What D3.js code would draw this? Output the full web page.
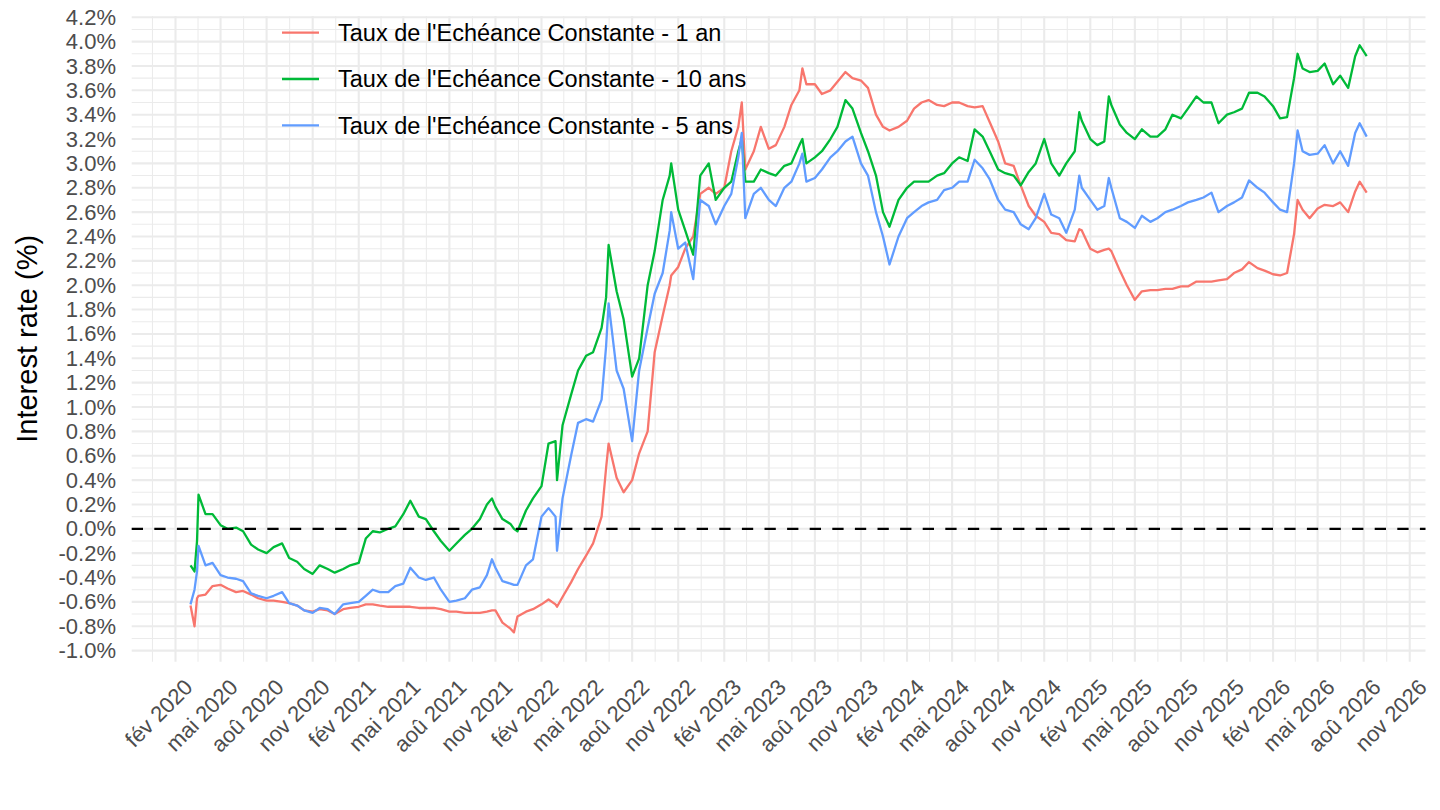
<!DOCTYPE html>
<html>
<head>
<meta charset="utf-8">
<script src="https://d3js.org/d3.v7.min.js"></script>
<style>
  body { margin: 0; background: #ffffff; }
  svg { display: block; font-family: "Liberation Sans", Arial, Helvetica, sans-serif; }
</style>
</head>
<body>
<script>
var width = 1440;
var height = 810;

var seriesNames = ["Taux de l'Echéance Constante - 1 an",
                   "Taux de l'Echéance Constante - 10 ans",
                   "Taux de l'Echéance Constante - 5 ans"];
var seriesColors = ["#F8766D", "#00BA38", "#619CFF"];
var moisCourts = ["jan", "fév", "mar", "avr", "mai", "jun", "jul", "aoû", "sep", "oct", "nov", "déc"];
var yTickValues = d3.range(-10, 43, 2).map(d => d / 10);
var yLabel = "Interest rate (%)";

var dates = [
  "2020-03-02", "2020-03-10", "2020-03-15", "2020-03-18", "2020-04-01", "2020-04-15",
  "2020-05-01", "2020-05-15", "2020-06-01", "2020-06-15", "2020-07-01", "2020-07-15",
  "2020-08-01", "2020-08-15", "2020-09-01", "2020-09-15", "2020-10-01", "2020-10-15",
  "2020-11-01", "2020-11-15", "2020-12-01", "2020-12-15", "2021-01-01", "2021-01-15",
  "2021-02-01", "2021-02-15", "2021-03-01", "2021-03-15", "2021-04-01", "2021-04-15",
  "2021-05-01", "2021-05-15", "2021-06-01", "2021-06-15", "2021-07-01", "2021-07-15",
  "2021-08-01", "2021-08-15", "2021-09-01", "2021-09-15", "2021-10-01", "2021-10-15",
  "2021-10-25", "2021-11-01", "2021-11-15", "2021-12-01", "2021-12-08", "2021-12-15",
  "2022-01-01", "2022-01-15", "2022-02-01", "2022-02-15", "2022-03-01", "2022-03-04",
  "2022-03-15", "2022-04-01", "2022-04-15", "2022-05-01", "2022-05-15", "2022-06-01",
  "2022-06-10", "2022-06-15", "2022-07-01", "2022-07-15", "2022-08-01", "2022-08-15",
  "2022-09-01", "2022-09-15", "2022-10-01", "2022-10-15", "2022-10-18", "2022-11-01",
  "2022-11-15", "2022-12-01", "2022-12-15", "2023-01-01", "2023-01-15", "2023-02-01",
  "2023-02-15", "2023-03-01", "2023-03-08", "2023-03-15", "2023-04-01", "2023-04-15",
  "2023-05-01", "2023-05-15", "2023-06-01", "2023-06-15", "2023-07-01", "2023-07-07",
  "2023-07-15", "2023-08-01", "2023-08-15", "2023-09-01", "2023-09-15", "2023-10-01",
  "2023-10-15", "2023-11-01", "2023-11-15", "2023-12-01", "2023-12-15", "2023-12-28",
  "2024-01-15", "2024-02-01", "2024-02-15", "2024-03-01", "2024-03-15", "2024-04-01",
  "2024-04-15", "2024-05-01", "2024-05-15", "2024-06-01", "2024-06-15", "2024-07-01",
  "2024-07-15", "2024-08-01", "2024-08-15", "2024-09-01", "2024-09-15", "2024-10-01",
  "2024-10-15", "2024-11-01", "2024-11-15", "2024-12-01", "2024-12-15", "2025-01-01",
  "2025-01-10", "2025-01-15", "2025-02-01", "2025-02-15", "2025-03-01", "2025-03-10",
  "2025-03-15", "2025-04-01", "2025-04-15", "2025-05-01", "2025-05-15", "2025-06-01",
  "2025-06-15", "2025-07-01", "2025-07-15", "2025-08-01", "2025-08-15", "2025-09-01",
  "2025-09-15", "2025-10-01", "2025-10-15", "2025-11-01", "2025-11-15", "2025-12-01",
  "2025-12-15", "2026-01-01", "2026-01-15", "2026-02-01", "2026-02-15", "2026-03-01",
  "2026-03-15", "2026-03-22", "2026-04-01", "2026-04-15", "2026-05-01", "2026-05-15",
  "2026-06-01", "2026-06-15", "2026-07-01", "2026-07-15", "2026-07-24", "2026-08-07"
];

var taux1an = [
  -0.63, -0.80, -0.57, -0.55, -0.54, -0.47,
  -0.46, -0.49, -0.52, -0.51, -0.54, -0.57,
  -0.59, -0.59, -0.60, -0.61, -0.63, -0.67,
  -0.68, -0.66, -0.67, -0.70, -0.66, -0.65,
  -0.64, -0.62, -0.62, -0.63, -0.64, -0.64,
  -0.64, -0.64, -0.65, -0.65, -0.65, -0.66,
  -0.68, -0.68, -0.69, -0.69, -0.69, -0.68,
  -0.67, -0.67, -0.77, -0.82, -0.85, -0.72,
  -0.68, -0.66, -0.62, -0.58, -0.62, -0.64,
  -0.56, -0.44, -0.33, -0.22, -0.12, 0.10,
  0.50, 0.70, 0.42, 0.30, 0.40, 0.62,
  0.80, 1.45, 1.75, 2.00, 2.08, 2.15,
  2.30, 2.40, 2.75, 2.80, 2.75, 2.80,
  3.10, 3.30, 3.50, 2.95, 3.10, 3.30,
  3.12, 3.15, 3.30, 3.48, 3.60, 3.78,
  3.65, 3.65, 3.57, 3.60, 3.67, 3.75,
  3.70, 3.68, 3.62, 3.40, 3.30, 3.27,
  3.30, 3.35, 3.45, 3.50, 3.52, 3.48,
  3.47, 3.50, 3.50, 3.47, 3.46, 3.47,
  3.34, 3.18, 3.00, 2.98, 2.82, 2.65,
  2.57, 2.52, 2.43, 2.42, 2.37, 2.36,
  2.46, 2.45, 2.30, 2.27, 2.29, 2.30,
  2.28, 2.12, 2.00, 1.88, 1.95, 1.96,
  1.96, 1.97, 1.97, 1.99, 1.99, 2.03,
  2.03, 2.03, 2.04, 2.05, 2.10, 2.13,
  2.19, 2.14, 2.12, 2.09, 2.08, 2.10,
  2.42, 2.70, 2.62, 2.55, 2.63, 2.66,
  2.65, 2.68, 2.60, 2.77, 2.85, 2.76
];

var taux10ans = [
  -0.30, -0.35, -0.10, 0.28, 0.12, 0.12,
  0.03, 0.00, 0.01, -0.02, -0.13, -0.17,
  -0.20, -0.15, -0.12, -0.24, -0.27, -0.33,
  -0.37, -0.30, -0.33, -0.36, -0.33, -0.30,
  -0.28, -0.08, -0.02, -0.03, 0.00, 0.02,
  0.12, 0.23, 0.10, 0.08, -0.02, -0.10,
  -0.18, -0.12, -0.05, 0.00, 0.08, 0.20,
  0.25, 0.18, 0.08, 0.04, 0.00, -0.02,
  0.15, 0.25, 0.35, 0.70, 0.72, 0.40,
  0.85, 1.10, 1.30, 1.42, 1.45, 1.65,
  1.90, 2.33, 1.95, 1.72, 1.25, 1.40,
  2.00, 2.28, 2.70, 2.90, 3.00, 2.62,
  2.45, 2.25, 2.90, 3.00, 2.70, 2.80,
  2.85, 3.10, 3.20, 2.85, 2.85, 2.95,
  2.92, 2.90, 2.98, 3.00, 3.15, 3.20,
  3.00, 3.05, 3.10, 3.20, 3.30, 3.52,
  3.45, 3.25, 3.10, 2.90, 2.60, 2.48,
  2.70, 2.80, 2.85, 2.85, 2.85, 2.90,
  2.92, 3.00, 3.05, 3.02, 3.28, 3.22,
  3.10, 2.95, 2.92, 2.90, 2.82, 2.93,
  3.00, 3.20, 3.00, 2.90, 3.00, 3.10,
  3.42, 3.35, 3.20, 3.15, 3.18, 3.55,
  3.48, 3.32, 3.25, 3.20, 3.28, 3.22,
  3.22, 3.28, 3.40, 3.37, 3.45, 3.55,
  3.50, 3.50, 3.33, 3.40, 3.42, 3.45,
  3.58, 3.58, 3.55, 3.47, 3.37, 3.38,
  3.70, 3.90, 3.78, 3.75, 3.76, 3.82,
  3.65, 3.72, 3.62, 3.88, 3.97, 3.88
];

var taux5ans = [
  -0.62, -0.50, -0.35, -0.14, -0.30, -0.28,
  -0.38, -0.40, -0.41, -0.43, -0.53, -0.55,
  -0.57, -0.55, -0.52, -0.61, -0.63, -0.67,
  -0.69, -0.65, -0.66, -0.70, -0.62, -0.61,
  -0.60, -0.55, -0.50, -0.52, -0.52, -0.47,
  -0.45, -0.32, -0.40, -0.42, -0.40, -0.50,
  -0.60, -0.59, -0.57, -0.50, -0.48, -0.38,
  -0.25, -0.32, -0.43, -0.45, -0.46, -0.46,
  -0.30, -0.25, 0.10, 0.17, 0.10, -0.18,
  0.25, 0.60, 0.87, 0.90, 0.88, 1.06,
  1.50, 1.85, 1.30, 1.15, 0.72, 1.30,
  1.65, 1.93, 2.10, 2.45, 2.60, 2.30,
  2.35, 2.05, 2.70, 2.65, 2.50, 2.65,
  2.75, 3.05, 3.25, 2.55, 2.75, 2.80,
  2.70, 2.65, 2.80, 2.85, 3.00, 3.08,
  2.85, 2.88, 2.95, 3.05, 3.10, 3.18,
  3.22, 3.00, 2.90, 2.60, 2.40, 2.17,
  2.40, 2.55, 2.60, 2.65, 2.68, 2.70,
  2.78, 2.80, 2.85, 2.85, 3.03, 2.96,
  2.87, 2.70, 2.62, 2.60, 2.50, 2.46,
  2.55, 2.75, 2.58, 2.55, 2.43, 2.62,
  2.90, 2.80, 2.70, 2.62, 2.65, 2.88,
  2.80, 2.55, 2.52, 2.47, 2.57, 2.52,
  2.55, 2.60, 2.62, 2.65, 2.68, 2.70,
  2.72, 2.76, 2.60, 2.65, 2.68, 2.72,
  2.86, 2.80, 2.76, 2.68, 2.62, 2.60,
  3.00, 3.27, 3.10, 3.07, 3.08, 3.15,
  3.00, 3.10, 2.98, 3.25, 3.33, 3.22
];

var panel = { left: 131.7, right: 1425.5, top: 15.9, bottom: 661.7 };
var tickFontSize = 22;
var legendFontSize = 23.5;
var titleFontSize = 29;

var frLocale = d3.timeFormatLocale({
  dateTime: "%A %e %B %Y à %X", date: "%d/%m/%Y", time: "%H:%M:%S",
  periods: ["AM", "PM"],
  days: ["dimanche", "lundi", "mardi", "mercredi", "jeudi", "vendredi", "samedi"],
  shortDays: ["dim", "lun", "mar", "mer", "jeu", "ven", "sam"],
  months: ["janvier", "février", "mars", "avril", "mai", "juin", "juillet", "août", "septembre", "octobre", "novembre", "décembre"],
  shortMonths: moisCourts
});

var parseDate = d3.utcParse("%Y-%m-%d");

var expand = function(extent, mult) {
  var pad = (extent[1] - extent[0]) * mult;
  return [extent[0] - pad, extent[1] + pad];
};

var buildSeries = function() {
  var parsed = dates.map(parseDate);
  return [taux1an, taux10ans, taux5ans].map((values, i) => ({
    name: seriesNames[i],
    color: seriesColors[i],
    points: values.map((v, j) => ({ date: parsed[j], value: v }))
  }));
};

var setupScales = function(allSeries) {
  var allPoints = d3.merge(allSeries.map(s => s.points));
  var tExtent = expand(d3.extent(allPoints, d => +d.date), 0.05);
  var vExtent = expand(d3.extent(allPoints, d => d.value), 0.05);

  var x = d3.scaleUtc()
            .domain([new Date(tExtent[0]), new Date(tExtent[1])])
            .range([panel.left, panel.right]);
  var y = d3.scaleLinear()
            .domain(vExtent)
            .range([panel.bottom, panel.top]);
  return { x: x, y: y };
};

// breaks every 3 months (fév, mai, aoû, nov) and minor breaks halfway between
var dateBreaks = function(x) {
  var dom = x.domain();
  var months = d3.utcMonth.range(d3.utcMonth.offset(d3.utcMonth.floor(dom[0]), -3),
                                 d3.utcMonth.offset(dom[1], 4));
  var quarters = months.filter(d => d.getUTCMonth() % 3 === 1);
  var minors = [];
  for (var i = 1; i < quarters.length; i++) {
    minors.push(new Date((+quarters[i - 1] + +quarters[i]) / 2));
  }
  var inside = d => d >= dom[0] && d <= dom[1];
  return { major: quarters.filter(inside), minor: minors.filter(inside) };
};

var drawGrid = function(root, sc) {
  var gridG = root.append('g').attr('class', 'grid');
  var yDom = sc.y.domain();
  var yMinor = d3.range(-11, 44, 2).map(d => d / 10)
                 .filter(v => v >= yDom[0] && v <= yDom[1]);
  var breaks = dateBreaks(sc.x);

  gridG.selectAll('.yminor')
       .data(yMinor)
       .enter().append('line')
       .attr('x1', panel.left).attr('x2', panel.right)
       .attr('y1', d => sc.y(d)).attr('y2', d => sc.y(d))
       .style('stroke', '#EBEBEB').style('stroke-width', 1.05);

  gridG.selectAll('.xminor')
       .data(breaks.minor)
       .enter().append('line')
       .attr('x1', d => sc.x(d)).attr('x2', d => sc.x(d))
       .attr('y1', panel.top).attr('y2', panel.bottom)
       .style('stroke', '#EBEBEB').style('stroke-width', 1.05);

  gridG.selectAll('.ymajor')
       .data(yTickValues)
       .enter().append('line')
       .attr('x1', panel.left).attr('x2', panel.right)
       .attr('y1', d => sc.y(d)).attr('y2', d => sc.y(d))
       .style('stroke', '#EBEBEB').style('stroke-width', 2.1);

  gridG.selectAll('.xmajor')
       .data(breaks.major)
       .enter().append('line')
       .attr('x1', d => sc.x(d)).attr('x2', d => sc.x(d))
       .attr('y1', panel.top).attr('y2', panel.bottom)
       .style('stroke', '#EBEBEB').style('stroke-width', 2.1);

  return breaks;
};

var drawAxes = function(root, sc, breaks) {
  var fmtPct = d => d.toFixed(1) + '%';
  var fmtDate = frLocale.utcFormat('%b %Y');

  var yAxis = d3.axisLeft(sc.y)
                .tickValues(yTickValues)
                .tickFormat(fmtPct)
                .tickSize(0)
                .tickPadding(panel.left - 116);
  root.append('g')
      .attr('class', 'axis yaxis')
      .attr('transform', 'translate(' + panel.left + ',0)')
      .call(yAxis);

  var xAxis = d3.axisBottom(sc.x)
                .tickValues(breaks.major)
                .tickFormat(fmtDate)
                .tickSize(0);
  var xG = root.append('g')
               .attr('class', 'axis xaxis')
               .attr('transform', 'translate(0,' + panel.bottom + ')')
               .call(xAxis);

  root.selectAll('.axis .domain').remove();
  root.selectAll('.axis text')
      .style('font-family', '"Liberation Sans", Arial, Helvetica, sans-serif')
      .style('font-size', tickFontSize + 'px')
      .attr('fill', '#4D4D4D');

  xG.selectAll('text')
    .attr('x', 0).attr('y', 0).attr('dy', null)
    .attr('text-anchor', 'end')
    .attr('transform', 'translate(18,27) rotate(-45)');

  root.append('text')
      .attr('transform', 'translate(37,' + ((panel.top + panel.bottom) / 2) + ') rotate(-90)')
      .attr('text-anchor', 'middle')
      .style('font-size', titleFontSize + 'px')
      .attr('fill', '#000000')
      .text(yLabel);
};

var drawLines = function(root, sc, allSeries) {
  var line = d3.line()
               .defined(d => d.value != null)
               .x(d => sc.x(d.date))
               .y(d => sc.y(d.value));

  root.append('g')
      .attr('class', 'lines')
      .selectAll('path')
      .data(allSeries)
      .enter().append('path')
      .attr('d', d => line(d.points))
      .attr('fill', 'none')
      .attr('stroke', d => d.color)
      .attr('stroke-width', 2.3)
      .attr('stroke-linejoin', 'round');

  root.append('line')
      .attr('x1', panel.left).attr('x2', panel.right)
      .attr('y1', sc.y(0)).attr('y2', sc.y(0))
      .style('stroke', '#000000')
      .style('stroke-width', 2.3)
      .style('stroke-dasharray', '11.3 11.3');
};

var drawLegend = function(root, allSeries) {
  var rows = [32.7, 79, 125.3];
  var legendG = root.selectAll('.legendRow')
                    .data(allSeries)
                    .enter().append('g')
                    .attr('class', 'legendRow')
                    .attr('transform', (d, i) => 'translate(282,' + rows[i] + ')');

  legendG.append('line')
         .attr('x1', 0).attr('x2', 37)
         .attr('y1', 0).attr('y2', 0)
         .attr('stroke', d => d.color)
         .attr('stroke-width', 2.3);

  legendG.append('text')
         .attr('x', 56)
         .attr('y', legendFontSize * 0.36)
         .style('font-size', legendFontSize + 'px')
         .attr('fill', '#000000')
         .text(d => d.name);
};

var svg = d3.select('body').append('svg')
            .attr('width', width)
            .attr('height', height)
            .attr('viewBox', '0 0 ' + width + ' ' + height);

svg.append('rect')
   .attr('width', width).attr('height', height)
   .attr('fill', '#ffffff');

var allSeries = buildSeries();
var scales = setupScales(allSeries);
var breaks = drawGrid(svg, scales);
drawAxes(svg, scales, breaks);
drawLines(svg, scales, allSeries);
drawLegend(svg, allSeries);
</script>
</body>
</html>
